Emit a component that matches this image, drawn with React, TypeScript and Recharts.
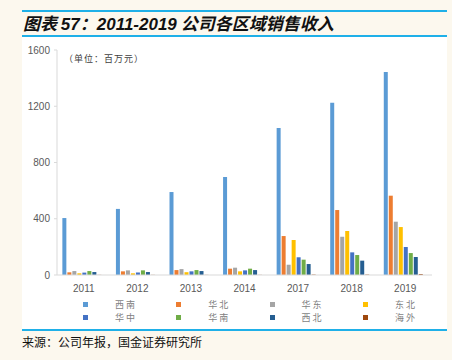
import { BarChart, Bar, XAxis, YAxis } from "recharts"

const years = ["2011", "2012", "2013", "2014", "2017", "2018", "2019"]

const southwest = [405, 470, 590, 697, 1045, 1225, 1443]
const north = [19, 26, 35, 45, 277, 462, 564]
const east = [28, 33, 42, 52, 73, 272, 379]
const northeast = [12, 12, 20, 26, 249, 313, 341]
const central = [17, 18, 26, 33, 126, 161, 199]
const south = [28, 33, 35, 45, 109, 142, 156]
const northwest = [21, 21, 28, 35, 78, 102, 128]
const overseas = [1, 1, 1, 1, 3, 3, 7]

const yTicks = [0, 400, 800, 1200, 1600]

const series = [
  { key: "西南", values: southwest, color: "#5B9BD5" },
  { key: "华北", values: north, color: "#ED7D31" },
  { key: "华东", values: east, color: "#A5A5A5" },
  { key: "东北", values: northeast, color: "#FFC000" },
  { key: "华中", values: central, color: "#4472C4" },
  { key: "华南", values: south, color: "#70AD47" },
  { key: "西北", values: northwest, color: "#255E91" },
  { key: "海外", values: overseas, color: "#9E480E" },
]

const data = years.map((year, i) => {
  const row: Record<string, string | number> = { year }
  series.forEach((s) => {
    row[s.key] = s.values[i]
  })
  return row
})

const fontFamily = '"Liberation Sans", Arial, sans-serif'
const cjkFont = '"Noto Sans CJK SC", sans-serif'

function LegendGrid() {
  return (
    <div
      style={{
        position: "absolute",
        left: 61,
        top: 262,
        display: "grid",
        gridTemplateColumns: "repeat(4, 93.3px)",
        rowGap: 3,
        fontFamily: cjkFont,
        fontSize: 9,
        color: "#7f7f7f",
      }}
    >
      {series.map((s) => (
        <div key={s.key} style={{ display: "flex", alignItems: "center", height: 10 }}>
          <span style={{ width: 5, height: 5, background: s.color, display: "inline-block" }} />
          <span style={{ marginLeft: 27, letterSpacing: 2 }}>{s.key}</span>
        </div>
      ))}
    </div>
  )
}

export default function App() {
  return (
    <div
      style={{
        position: "absolute",
        left: 0,
        top: 0,
        width: 452,
        height: 360,
        background: "#fcf8ee",
        overflow: "hidden",
      }}
    >
      <div style={{ position: "absolute", left: 22, top: 10, width: 425, height: 1.5, background: "#1fb0e8" }} />
      <div
        style={{
          position: "absolute",
          left: 23,
          top: 11,
          fontFamily: cjkFont,
          fontStyle: "italic",
          fontWeight: "bold",
          fontSize: 17,
          color: "#111",
          lineHeight: "23px",
        }}
      >
        图表 <span style={{ fontFamily }}>57</span>：<span style={{ fontFamily }}>2011-2019</span> 公司各区域销售收入
      </div>
      <div style={{ position: "absolute", left: 22, top: 35, width: 425, height: 1.5, background: "#1fb0e8" }} />

      <div style={{ position: "absolute", left: 22, top: 37, width: 425, height: 292, background: "#fff" }}>
        <div
          style={{
            position: "absolute",
            left: 42,
            top: 15,
            fontFamily: cjkFont,
            fontSize: 9,
            color: "#404040",
            letterSpacing: 1,
          }}
        >
          （单位：百万元）
        </div>
        <BarChart
          width={425}
          height={292}
          data={data}
          margin={{ top: 13, right: 15, left: 0, bottom: 0 }}
          barCategoryGap="10%"
          barGap={1}
        >
          <XAxis
            dataKey="year"
            tickLine={false}
            axisLine={{ stroke: "#d9d9d9" }}
            tick={{ fontSize: 10, fill: "#595959", fontFamily }}
            height={54}
            tickMargin={4}
          />
          <YAxis
            domain={[0, 1600]}
            ticks={yTicks}
            width={35}
            tickSize={3}
            tickLine={{ stroke: "#d9d9d9" }}
            axisLine={{ stroke: "#d9d9d9" }}
            tick={{ fontSize: 10, fill: "#595959", fontFamily }}
            tickMargin={4}
          />
          {series.map((s) => (
            <Bar key={s.key} dataKey={s.key} fill={s.color} isAnimationActive={false} />
          ))}
        </BarChart>
        <LegendGrid />
      </div>

      <div style={{ position: "absolute", left: 22, top: 329, width: 425, height: 1.5, background: "#1fb0e8" }} />
      <div
        style={{
          position: "absolute",
          left: 22,
          top: 333,
          fontFamily: cjkFont,
          fontSize: 12,
          color: "#111",
        }}
      >
        来源：公司年报，国金证券研究所
      </div>
    </div>
  )
}
